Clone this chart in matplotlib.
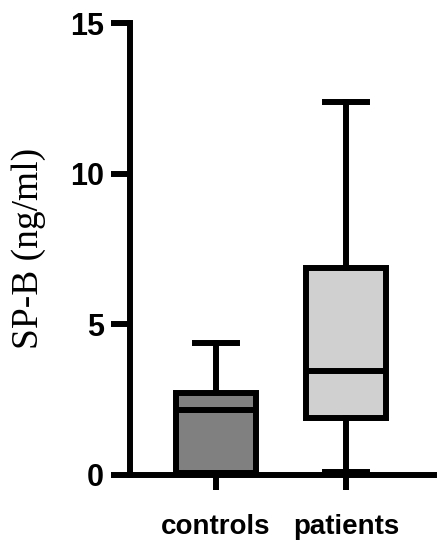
import matplotlib.pyplot as plt

groups = ['controls', 'patients']
mins = [0.05, 0.1]
q1s = [0.05, 1.87]
medians = [2.15, 3.45]
q3s = [2.7, 6.87]
maxs = [4.37, 12.37]
fills = ['#808080', '#d0d0d0']

stats = []
for g, lo, a, m, b, hi in zip(groups, mins, q1s, medians, q3s, maxs):
    stats.append({'label': g, 'whislo': lo, 'q1': a, 'med': m, 'q3': b, 'whishi': hi})

fig = plt.figure(figsize=(4.46, 5.5), dpi=100)
ax = fig.add_axes([0.291, 0.137, 0.682, 0.821])

lw = 4.3
bp = ax.bxp(stats, positions=[1, 2], widths=0.62, showfliers=False, patch_artist=True,
            boxprops=dict(linewidth=lw, edgecolor='black'),
            medianprops=dict(linewidth=lw, color='black'),
            whiskerprops=dict(linewidth=lw, color='black'),
            capprops=dict(linewidth=lw, color='black'),
            capwidths=0.32)
for patch, c in zip(bp['boxes'], fills):
    patch.set_facecolor(c)
    patch.set_joinstyle('miter')

ax.set_xlim(0.338, 2.677)
ax.set_ylim(0, 15)
ax.set_yticks([0, 5, 10, 15])
ax.spines['top'].set_visible(False)
ax.spines['right'].set_visible(False)
ax.spines['left'].set_linewidth(lw)
ax.spines['bottom'].set_linewidth(lw)
ax.tick_params(axis='y', length=13.5, width=lw, pad=5)
ax.tick_params(axis='x', length=11, width=lw, pad=17)

for t in ax.get_yticklabels():
    t.set_fontfamily('Liberation Sans')
    t.set_fontweight('bold')
    t.set_fontsize(22)
for t in ax.get_xticklabels():
    t.set_fontfamily('Liberation Sans')
    t.set_fontweight('bold')
    t.set_fontsize(20)

ax.set_ylabel('SP-B (ng/ml)', fontfamily='Liberation Serif', fontsize=27)
ax.yaxis.set_label_coords(-0.275, 0.5)

fig.savefig('out.png', dpi=100)
